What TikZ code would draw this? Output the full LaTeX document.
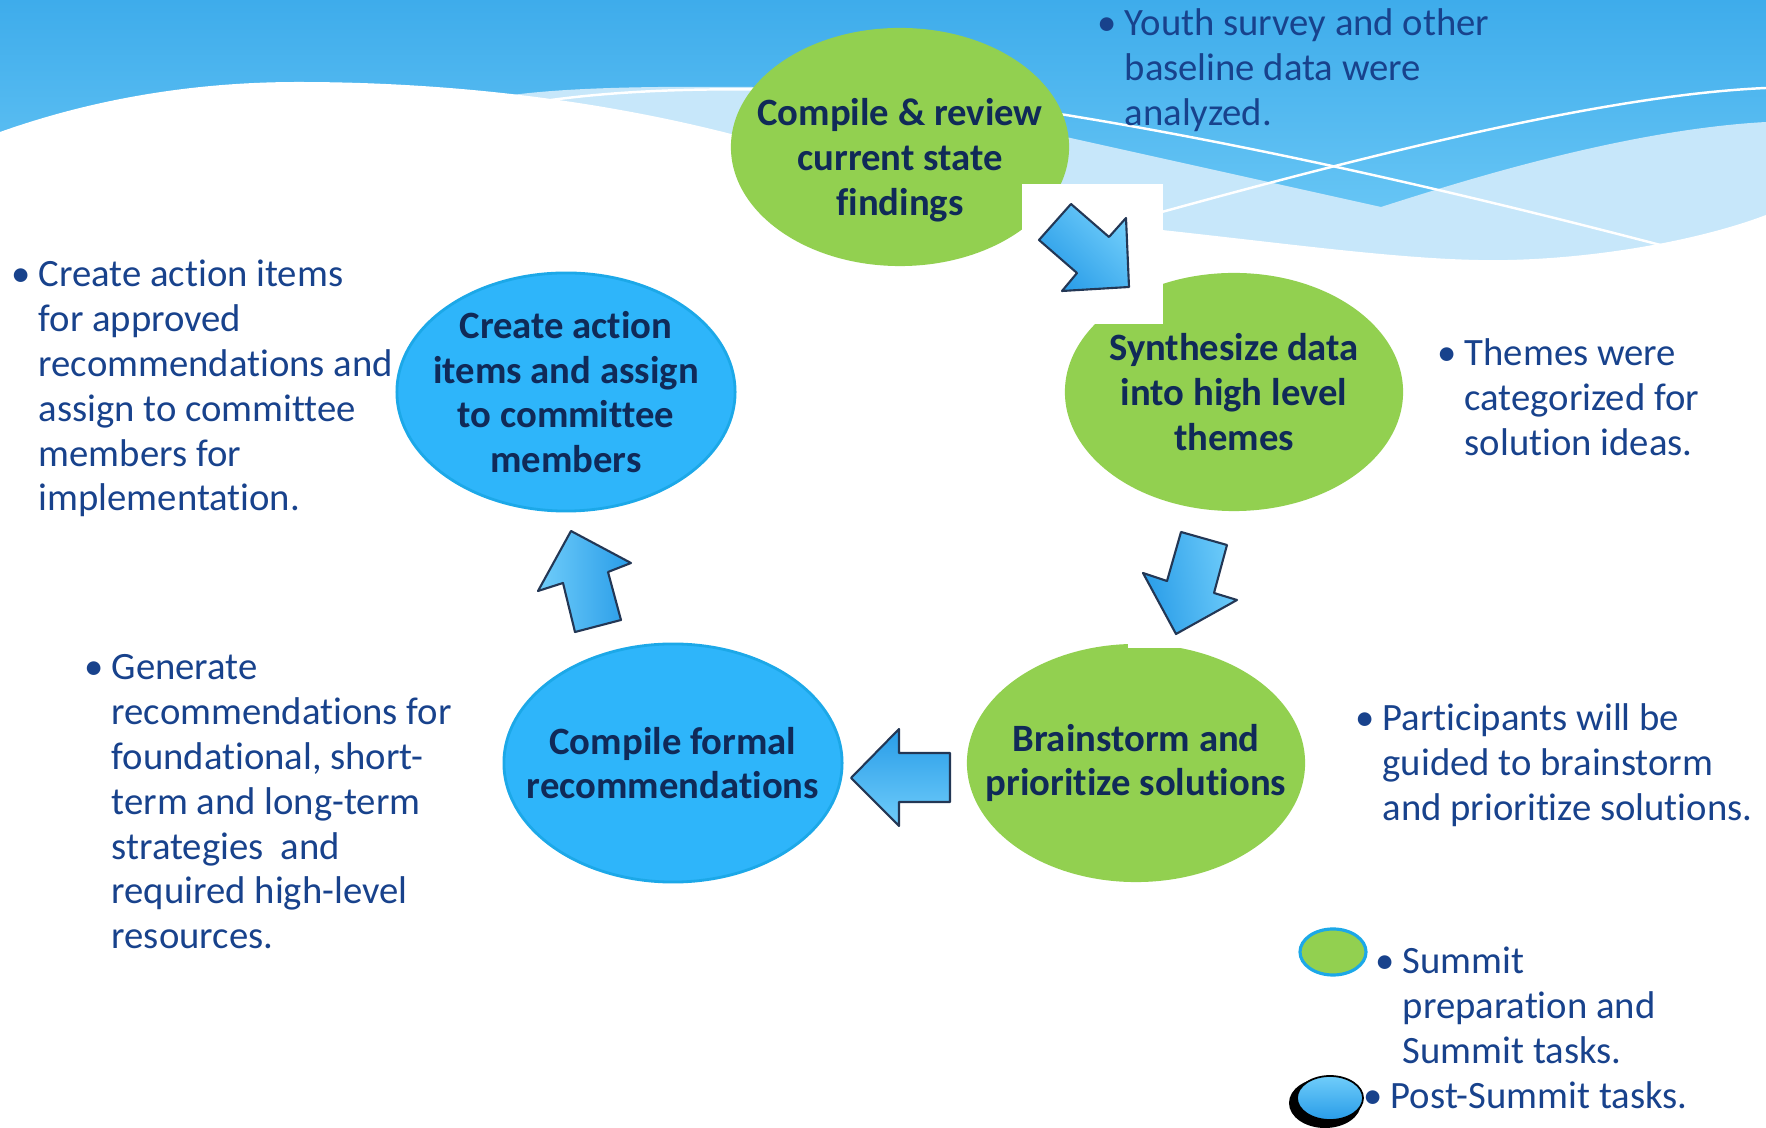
\documentclass[tikz,border=0pt]{standalone}
\usepackage{fontspec}
\setmainfont{Carlito}[Ligatures=NoCommon]
\usepackage{tikz}
\usetikzlibrary{shapes.geometric}
\definecolor{skytop}{RGB}{62,172,235}
\definecolor{skylow}{RGB}{112,203,247}
\definecolor{wavepale}{RGB}{199,231,250}
\definecolor{prepgreen}{RGB}{146,208,80}
\definecolor{postblue}{RGB}{46,181,250}
\definecolor{postedge}{RGB}{28,168,232}
\definecolor{stagetext}{RGB}{16,42,88}
\definecolor{notetext}{RGB}{24,66,140}
\definecolor{arrowdark}{RGB}{40,156,232}
\definecolor{arrowlight}{RGB}{112,205,250}
\definecolor{arrowedge}{RGB}{35,55,85}
\newcommand{\stagefont}{\fontsize{11}{12.75}\selectfont\bfseries}
\newcommand{\notefont}{\fontsize{11}{12.75}\selectfont}
\newcommand{\bul}[1]{\makebox[0.27cm][l]{\textbullet}\begin{tabular}[t]{@{}l@{}}#1\end{tabular}}

\begin{document}
\begin{tikzpicture}[x=0.01cm, y=-0.01cm,
    stage/.style={ellipse, inner sep=0pt, minimum width=3.38cm, minimum height=2.38cm},
    stagelabel/.style={font=\stagefont, text=stagetext, align=center, inner sep=0pt},
    prep/.style={stage, fill=prepgreen},
    post/.style={stage, fill=postblue, draw=postedge, line width=0.8pt},
    note/.style={anchor=north west, inner sep=0pt, font=\notefont, text=notetext},
    blockarrow/.style={draw=arrowedge, line width=0.6pt, line join=round},
    mask/.style={fill=white}]
    \useasboundingbox (0,0) rectangle (1766,1128);

    % Sky and waves
    \shade[top color=skytop, bottom color=skylow] (0,0) rectangle (1766,260);
    \fill[wavepale] (505,96) .. controls (560,88) and (640,86) .. (752,87)
        .. controls (880,90) and (980,112) .. (1066,137) -- (1381,207)
        .. controls (1450,185) and (1620,130) .. (1766,122) -- (1766,330) -- (505,330) -- cycle;
    \fill[white] (0,132) .. controls (90,100) and (190,82) .. (298,82)
        .. controls (450,82) and (600,100) .. (735,135)
        .. controls (900,180) and (1000,215) .. (1162,230)
        .. controls (1300,245) and (1420,262) .. (1508,260)
        .. controls (1600,258) and (1700,240) .. (1766,215) -- (1766,340) -- (0,340) -- cycle;
    \draw[white, line width=0.7pt] (551,100) .. controls (700,80) and (900,90) .. (1066,115)
        .. controls (1250,145) and (1450,190) .. (1668,247);
    \draw[white, line width=0.7pt] (1140,218) .. controls (1350,160) and (1600,95) .. (1766,88);

    % Stages
    \node[prep, label={[stagelabel, yshift=-0.135cm]center:{Compile \& review\\current state\\findings}}] (review) at (900,147) {};
    \node[prep, label={[stagelabel]center:{Synthesize data\\into high level\\themes}}] (synth) at (1234,392) {};
    \node[prep, label={[stagelabel]center:{Brainstorm and\\prioritize solutions}}] (brainstorm) at (1136,763) {};
    \node[post, label={[stagelabel]center:{Compile formal\\recommendations}}] (formal) at (673,763) {};
    \node[post, label={[stagelabel]center:{Create action\\items and assign\\to committee\\members}}] (action) at (566,392) {};

    % Arrows
    \fill[mask] (1022,184) rectangle (1163,324);
    \fill[mask] (1128,520) rectangle (1262,648);
    \shade[blockarrow, top color=arrowlight, bottom color=arrowdark, shading angle=-45]
        (1071,204) -- (1109,237) -- (1126,218) -- (1129,287) -- (1062,291) -- (1077,273) -- (1039,240) -- cycle;
    \shade[blockarrow, top color=arrowlight, bottom color=arrowdark, shading angle=-80]
        (1181,532) -- (1227,545) -- (1214,593) -- (1237,600) -- (1176,634) -- (1143,573) -- (1167,581) -- cycle;
    \shade[blockarrow, top color=arrowdark, bottom color=arrowlight]
        (851,778) -- (899,729) -- (899,753) -- (950,753) -- (950,802) -- (899,802) -- (899,826) -- cycle;
    \shade[blockarrow, left color=arrowlight, right color=arrowdark]
        (571,531) -- (631,563) -- (608,572) -- (621,620) -- (575,632) -- (563,583) -- (538,591) -- cycle;

    % Notes
    \node[note] (survey) at (1097,3.6) {\bul{Youth survey and other\\baseline data were\\analyzed.}};
    \node[note] (assign) at (11,254.6) {\bul{Create action items\\for approved\\recommendations and\\assign to committee\\members for\\implementation.}};
    \node[note] (themes) at (1437,333.6) {\bul{Themes were\\categorized for\\solution ideas.}};
    \node[note] (generate) at (84,647.6) {\bul{Generate\\recommendations for\\foundational, short-\\term and long-term\\strategies~ and\\required high-level\\resources.}};
    \node[note] (guided) at (1355,698.6) {\bul{Participants will be\\guided to brainstorm\\and prioritize solutions.}};

    % Legend
    \node[ellipse, minimum width=0.66cm, minimum height=0.46cm, fill=prepgreen, draw=postedge, line width=0.9pt] (keyprep) at (1333,952) {};
    \node[note] (keyprepnote) at (1375,941.6) {\bul{Summit\\preparation and\\Summit tasks.}};
    \fill[black] (1325,1103) ellipse (36 and 25);
    \shade[top color=arrowlight, bottom color=arrowdark, draw=black, line width=0.5pt] (1330,1098) ellipse (33 and 22);
    \node[note] (keypostnote) at (1363,1076.6) {\bul{Post-Summit tasks.}};
\end{tikzpicture}
\end{document}
